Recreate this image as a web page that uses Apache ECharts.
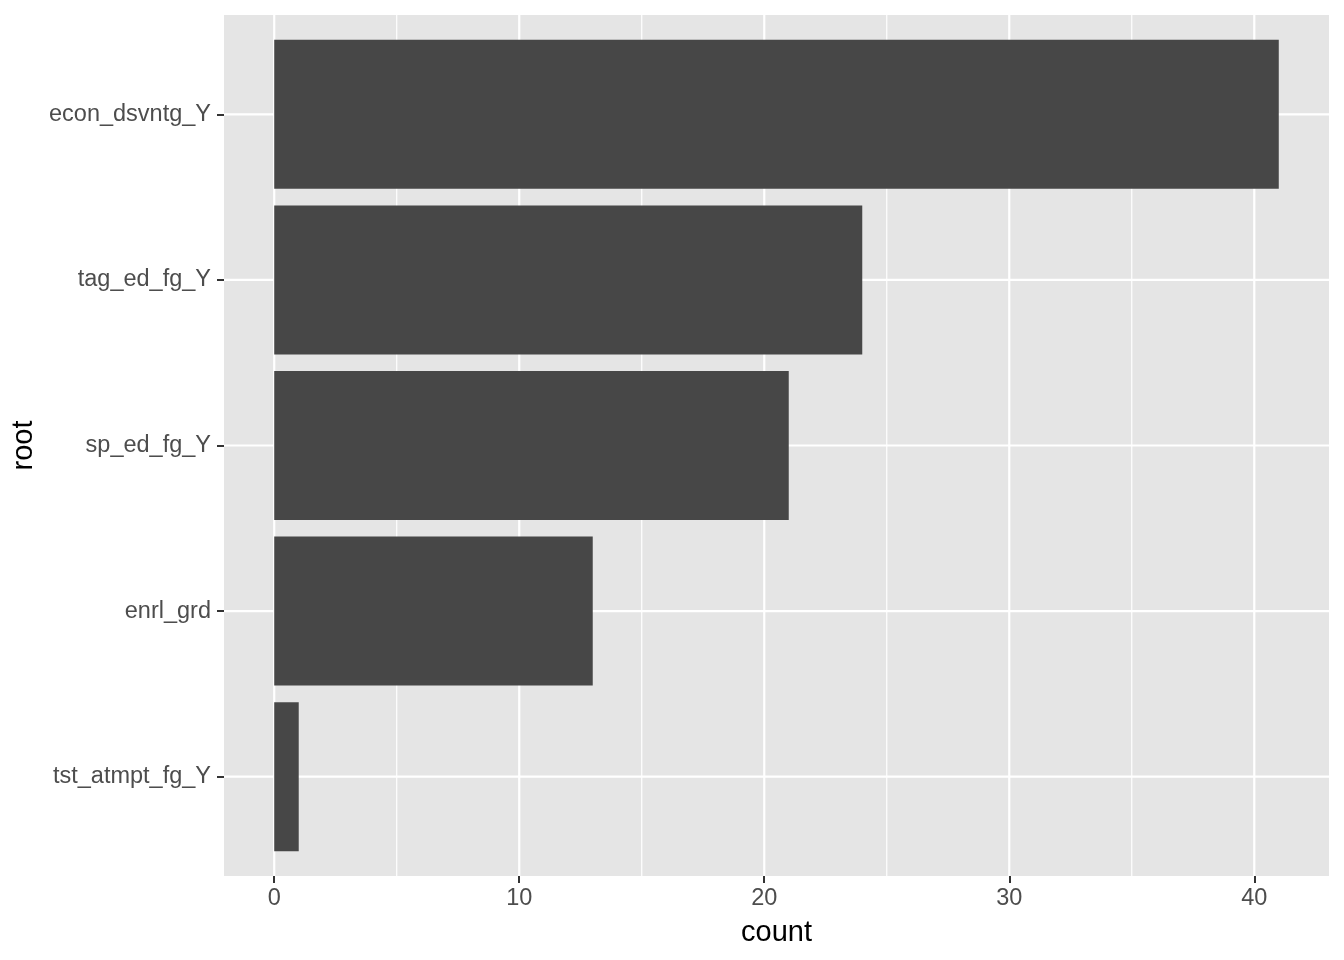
<!DOCTYPE html>
<html>
<head>
<meta charset="utf-8">
<script src="https://cdn.jsdelivr.net/npm/echarts@6/dist/echarts.min.js"></script>
<style>html,body{margin:0;padding:0;background:#fff;}#c{width:1344px;height:960px;}</style>
</head>
<body>
<div id="c"></div>
<script>
// categories top to bottom
const categories = ['econ_dsvntg_Y', 'tag_ed_fg_Y', 'sp_ed_fg_Y', 'enrl_grd', 'tst_atmpt_fg_Y'];
const counts = [41, 24, 21, 13, 1];
const xMajorTicks = [0, 10, 20, 30, 40];
const xMinorTicks = [5, 15, 25, 35];
const yPositions = [1, 2, 3, 4, 5];

const FONT = '"Liberation Sans", Arial, Helvetica, sans-serif';
const maxCount = Math.max(...counts);
const xMin = -0.05 * maxCount, xMax = maxCount * 1.05;

const gridData = [];
xMajorTicks.forEach(v => gridData.push([v, 1, 0]));
xMinorTicks.forEach(v => gridData.push([v, 1, 1]));
yPositions.forEach(v => gridData.push([0, v, 2]));

const barData = counts.map((c, i) => [c, i + 1]);

const chart = echarts.init(document.getElementById('c'), null, {renderer: 'canvas'});
chart.setOption({
  animation: false,
  backgroundColor: '#ffffff',
  grid: {left: 224, right: 15, top: 15, bottom: 84, show: true, backgroundColor: '#E5E5E5', borderWidth: 0},
  xAxis: {
    type: 'value', min: xMin, max: xMax,
    name: 'count', nameLocation: 'middle', nameGap: 42,
    nameTextStyle: {color: '#000', fontSize: 29, fontFamily: FONT},
    axisLine: {show: false, onZero: false},
    axisTick: {show: true, length: 7, lineStyle: {color: '#333333', width: 2}, customValues: xMajorTicks},
    axisLabel: {color: '#4D4D4D', fontSize: 23.5, fontFamily: FONT, margin: 11, customValues: xMajorTicks},
    splitLine: {show: false}, minorSplitLine: {show: false}
  },
  yAxis: {
    type: 'value', min: 0.4, max: 5.6, inverse: true,
    name: 'root', nameLocation: 'middle', nameGap: 176, nameRotate: 90,
    nameTextStyle: {color: '#000', fontSize: 29, fontFamily: FONT},
    axisLine: {show: false, onZero: false},
    axisTick: {show: true, length: 7, lineStyle: {color: '#333333', width: 2}, customValues: yPositions},
    axisLabel: {color: '#4D4D4D', fontSize: 23.5, fontFamily: FONT, margin: 13, customValues: yPositions,
      formatter: v => categories[Math.round(v) - 1] || ''},
    splitLine: {show: false}
  },
  series: [
    {
      type: 'custom', z: 1, silent: true, clip: false,
      data: gridData,
      encode: {x: 0, y: 1},
      renderItem: function (params, api) {
        const cs = params.coordSys;
        const kind = api.value(2);
        const p = api.coord([api.value(0), api.value(1)]);
        let shape;
        if (kind === 2) shape = {x1: cs.x, y1: p[1], x2: cs.x + cs.width, y2: p[1]};
        else shape = {x1: p[0], y1: cs.y, x2: p[0], y2: cs.y + cs.height};
        return {type: 'line', shape: shape, style: {stroke: '#FFFFFF', lineWidth: kind === 1 ? 1.2 : 2.2}};
      }
    },
    {
      type: 'custom', z: 2, silent: true,
      data: barData,
      encode: {x: 0, y: 1},
      renderItem: function (params, api) {
        const v = api.value(0), idx = api.value(1);
        const start = api.coord([0, idx]);
        const end = api.coord([v, idx]);
        const h = Math.abs(api.size([0, 0.9])[1]);
        return {type: 'rect', shape: {x: start[0], y: start[1] - h / 2, width: end[0] - start[0], height: h},
          style: {fill: '#474747'}};
      }
    }
  ]
});
</script>
</body>
</html>
